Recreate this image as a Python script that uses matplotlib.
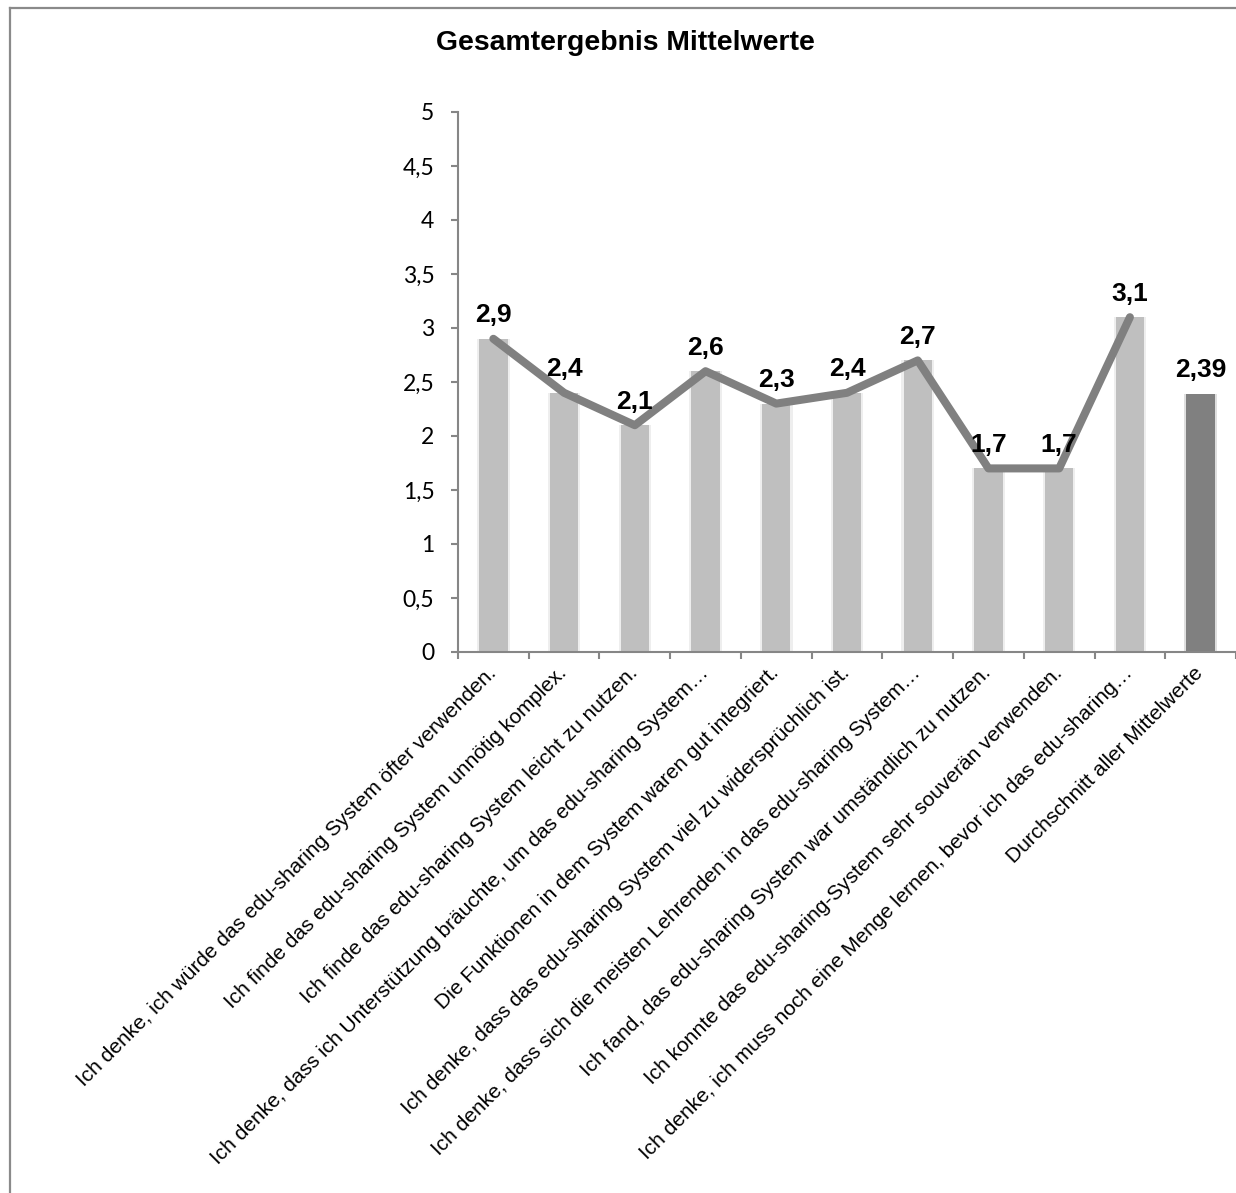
import matplotlib
matplotlib.use("Agg")
import matplotlib.pyplot as plt
import numpy as np
from matplotlib.lines import Line2D
from matplotlib.transforms import ScaledTranslation

# ---------------------------------------------------------------------------
# Data
# ---------------------------------------------------------------------------
items = [
    "Ich denke, ich würde das edu-sharing System öfter verwenden.",
    "Ich finde das edu-sharing System unnötig komplex.",
    "Ich finde das edu-sharing System leicht zu nutzen.",
    "Ich denke, dass ich Unterstützung bräuchte, um das edu-sharing System…",
    "Die Funktionen in dem System waren gut integriert.",
    "Ich denke, dass das edu-sharing System viel zu widersprüchlich ist.",
    "Ich denke, dass sich die meisten Lehrenden in das edu-sharing System…",
    "Ich fand, das edu-sharing System war umständlich zu nutzen.",
    "Ich konnte das edu-sharing-System sehr souverän verwenden.",
    "Ich denke, ich muss noch eine Menge lernen, bevor ich das edu-sharing…",
]
item_means = [2.9, 2.4, 2.1, 2.6, 2.3, 2.4, 2.7, 1.7, 1.7, 3.1]
overall_label = "Durchschnitt aller Mittelwerte"
overall_mean = 2.39

yticks = [0, 0.5, 1, 1.5, 2, 2.5, 3, 3.5, 4, 4.5, 5]


def de(v):
    return f"{v:g}".replace(".", ",")


# ---------------------------------------------------------------------------
# Plot
# ---------------------------------------------------------------------------
plt.rcParams["font.family"] = ["Liberation Sans", "DejaVu Sans"]

fig = plt.figure(figsize=(12.36, 11.93), dpi=100)
ax = fig.add_axes([458 / 1236, 1 - 652 / 1193, 1 - 458 / 1236, 540 / 1193])

categories = items + [overall_label]
values = item_means + [overall_mean]
x = np.arange(len(categories))
colors = ["#bfbfbf"] * len(items) + ["#808080"]

# soft edge around the bars (imitates the Excel shadow)
ax.bar(x, values, width=0.46, color=colors, alpha=0.25, zorder=1)
ax.bar(x, values, width=0.40, color=colors, zorder=2)

ax.plot(x[:len(items)], item_means, color="#808080", lw=5.8,
        solid_capstyle="round", solid_joinstyle="round", zorder=3)

for xi, v in zip(x, values):
    txt = f"{v:.2f}".rstrip("0").replace(".", ",")
    ax.annotate(txt, (xi, v), xytext=(0, 12), textcoords="offset points",
                ha="center", va="baseline", fontsize=19, fontweight="bold",
                color="black", zorder=4)

ax.set_xlim(-0.5, len(categories) - 0.5)
ax.set_ylim(0, 5)

ax.set_yticks(yticks)
ax.set_yticklabels([de(v) for v in yticks], family=["Lato", "DejaVu Sans"],
                   fontsize=16.5)
ax.tick_params(axis="y", direction="out", length=5, width=1.5,
               color="#868686", pad=12)

ax.set_xticks(x)
ax.set_xticklabels(categories, rotation=45, ha="right",
                   rotation_mode="anchor", fontsize=15)
ax.tick_params(axis="x", length=0, pad=8)
ax.set_xticks(np.arange(-0.5, len(categories), 1), minor=True)
ax.tick_params(axis="x", which="minor", direction="out", length=5,
               width=1.5, color="#868686")
shift = ScaledTranslation(-0.07, 0, fig.dpi_scale_trans)
for lab in ax.get_xticklabels():
    lab.set_transform(lab.get_transform() + shift)

for side in ("top", "right"):
    ax.spines[side].set_visible(False)
for side in ("left", "bottom"):
    ax.spines[side].set_color("#868686")
    ax.spines[side].set_linewidth(1.5)

fig.text(625.5 / 1236, 1 - 50 / 1193, "Gesamtergebnis Mittelwerte",
         ha="center", va="baseline", fontsize=20.4, fontweight="bold")

# outer frame (only left and top edges visible)
fx = 10 / 1236
fy = 1 - 7.5 / 1193
fig.add_artist(Line2D([fx, fx], [0, fy], color="#8a8a8a", lw=1.6,
                      transform=fig.transFigure))
fig.add_artist(Line2D([fx, 1], [fy, fy], color="#8a8a8a", lw=1.6,
                      transform=fig.transFigure))

fig.savefig("out.png", dpi=100)
